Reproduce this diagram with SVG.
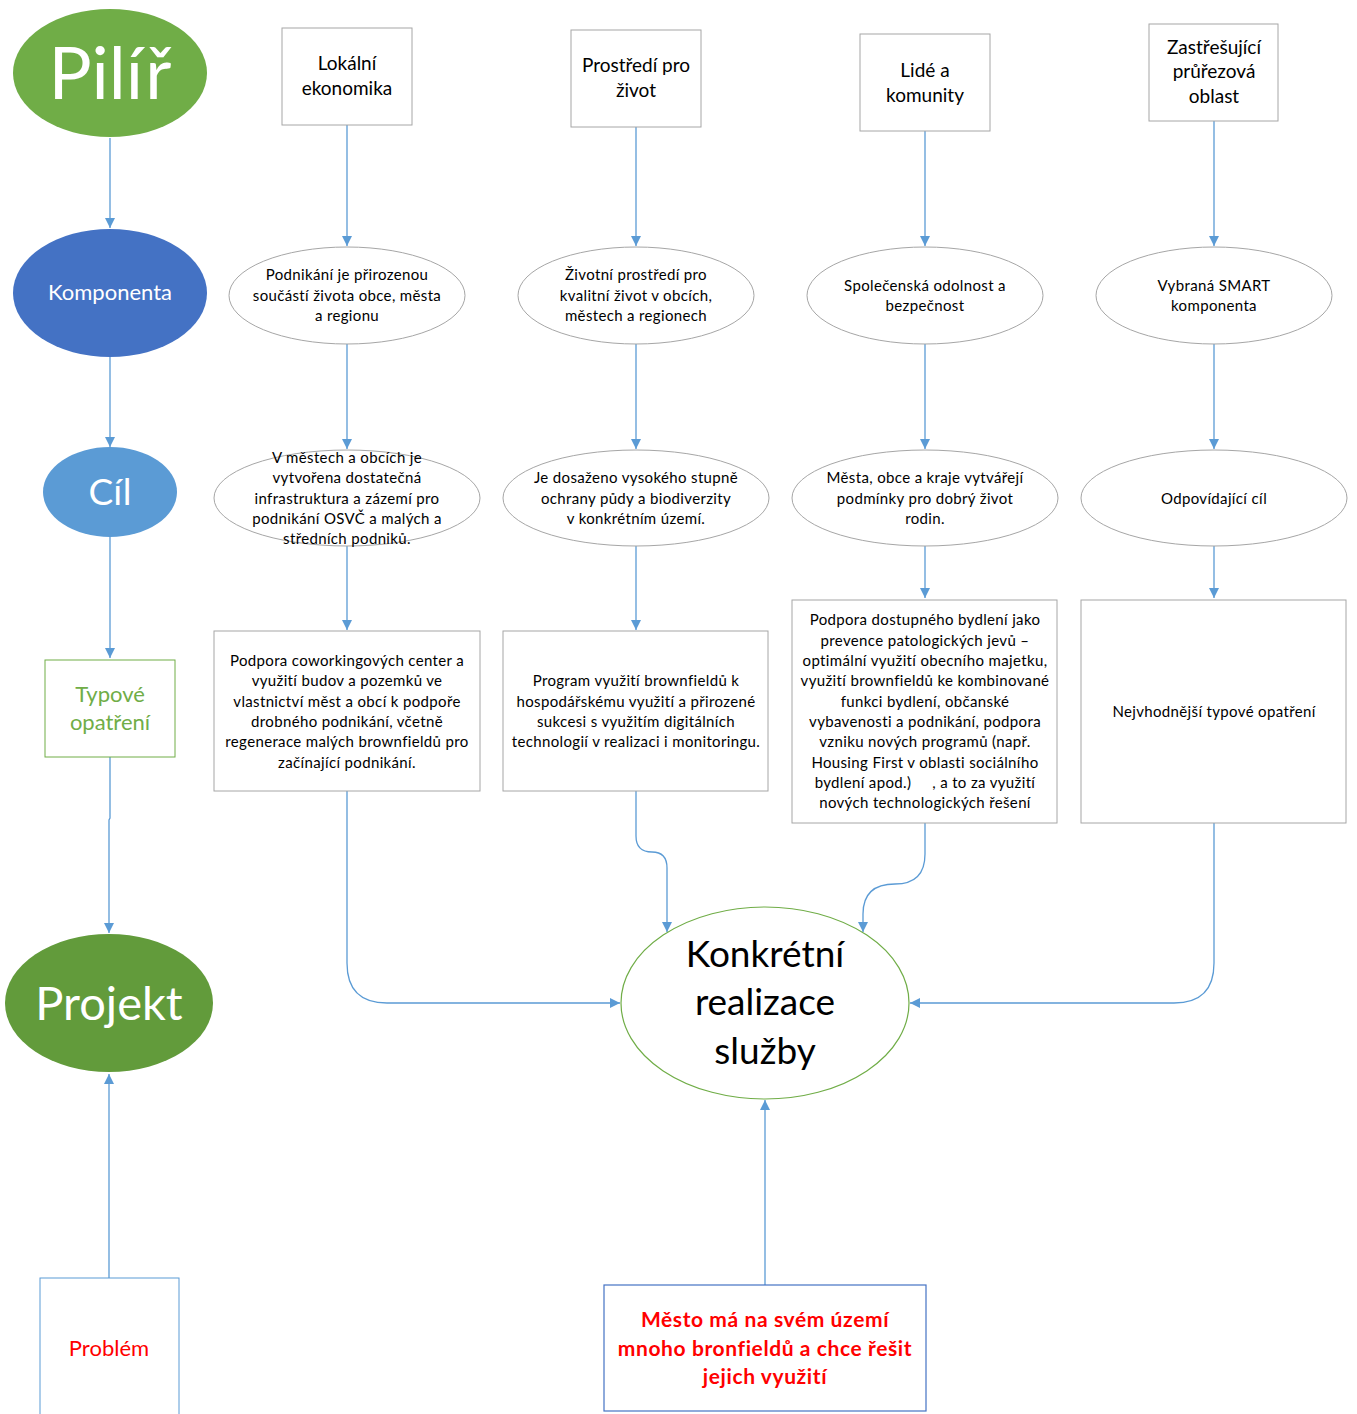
<svg xmlns="http://www.w3.org/2000/svg" width="1357" height="1414" viewBox="0 0 1357 1414">
<defs>
<marker id="ah" markerUnits="userSpaceOnUse" markerWidth="10" markerHeight="10" refX="10" refY="5" orient="auto">
<path d="M0,0 L10,5 L0,10 z" fill="#5B9BD5"/>
</marker>
<style>
text{font-family:Lato,"Open Sans","Liberation Sans",sans-serif;text-anchor:middle;white-space:pre}
.box{fill:#fff;stroke:#a6a6a6;stroke-width:1}
.ell{fill:#fff;stroke:#a6a6a6;stroke-width:1}
.t18{font-size:19px;fill:#000}
.t14{font-size:15px;fill:#000;letter-spacing:0.35px}
.wl{fill:#fff}
.con path{fill:none;stroke:#5B9BD5;stroke-width:1.3;marker-end:url(#ah)}
</style>
</defs>
<rect width="1357" height="1414" fill="#fff"/>

<g class="con">
<path d="M110,138 V228"/>
<path d="M110,357 V447"/>
<path d="M110,537 V658"/>
<path d="M110,757 V818 L109,820 V933"/>
<path d="M109,1278 V1074"/>
<path d="M347,125 V246"/>
<path d="M636,127 V246"/>
<path d="M925,131 V246"/>
<path d="M1214,121 V246"/>
<path d="M347,344 V449"/>
<path d="M636,344 V449"/>
<path d="M925,344 V449"/>
<path d="M1214,344 V449"/>
<path d="M347,546 V630"/>
<path d="M636,546 V630"/>
<path d="M925,546 V598"/>
<path d="M1214,546 V598"/>
<path d="M347,791 V963 Q347,1003 387,1003 H620"/>
<path d="M636,791 V836 Q636,852 652,852 Q667,852 667,868 V932"/>
<path d="M925,823 V854 Q925,884 895,884 Q863,884 863,914 V932"/>
<path d="M1214,823 V963 Q1214,1003 1174,1003 H910"/>
<path d="M765,1285 V1100"/>
</g>

<g id="pilir">
<ellipse cx="110" cy="73" rx="97" ry="64" fill="#70AD47"/>
<text x="110" y="99" class="wl" style="font-size:72px">Pilíř</text>
</g>
<g id="komponenta">
<ellipse cx="110" cy="293" rx="97" ry="64" fill="#4472C4"/>
<text x="110" y="300" class="wl" style="font-size:22px">Komponenta</text>
</g>
<g id="cil">
<ellipse cx="110" cy="492" rx="67" ry="45" fill="#5B9BD5"/>
<text x="110" y="505" class="wl" style="font-size:37px">Cíl</text>
</g>
<g id="typove">
<rect x="45" y="660" width="130" height="97" fill="#fff" stroke="#70AD47"/>
<text x="110" y="702" style="font-size:22px;fill:#70AD47">Typové</text>
<text x="110" y="730" style="font-size:22px;fill:#70AD47">opatření</text>
</g>
<g id="projekt">
<ellipse cx="109" cy="1003" rx="104" ry="69" fill="#629B3B"/>
<text x="109" y="1020" class="wl" style="font-size:47px">Projekt</text>
</g>
<g id="problem">
<rect x="40" y="1278" width="139" height="140" fill="#fff" stroke="#5B9BD5"/>
<text x="109" y="1356" style="font-size:22px;fill:#f00">Problém</text>
</g>

<g id="p1">
<rect x="282" y="28" width="130" height="97" class="box"/>
<text x="347" y="70" class="t18">Lokální</text>
<text x="347" y="95" class="t18">ekonomika</text>
</g>
<g id="p2">
<rect x="571" y="30" width="130" height="97" class="box"/>
<text x="636" y="72" class="t18">Prostředí pro</text>
<text x="636" y="97" class="t18">život</text>
</g>
<g id="p3">
<rect x="860" y="34" width="130" height="97" class="box"/>
<text x="925" y="77" class="t18">Lidé a</text>
<text x="925" y="102" class="t18">komunity</text>
</g>
<g id="p4">
<rect x="1149" y="24" width="129" height="97" class="box"/>
<text x="1214" y="54" class="t18">Zastřešující</text>
<text x="1214" y="78" class="t18">průřezová</text>
<text x="1214" y="103" class="t18">oblast</text>
</g>

<g id="k1">
<ellipse cx="347" cy="295.5" rx="118" ry="48.5" class="ell"/>
<text class="t14"><tspan x="347" y="280">Podnikání je přirozenou</tspan><tspan x="347" y="301">součástí života obce, města</tspan><tspan x="347" y="321">a regionu</tspan></text>
</g>
<g id="k2">
<ellipse cx="636" cy="295.5" rx="118" ry="48.5" class="ell"/>
<text class="t14"><tspan x="636" y="280">Životní prostředí pro</tspan><tspan x="636" y="301">kvalitní život v obcích,</tspan><tspan x="636" y="321">městech a regionech</tspan></text>
</g>
<g id="k3">
<ellipse cx="925" cy="295.5" rx="118" ry="48.5" class="ell"/>
<text class="t14"><tspan x="925" y="291">Společenská odolnost a</tspan><tspan x="925" y="311">bezpečnost</tspan></text>
</g>
<g id="k4">
<ellipse cx="1214" cy="295.5" rx="118" ry="48.5" class="ell"/>
<text class="t14"><tspan x="1214" y="291">Vybraná SMART</tspan><tspan x="1214" y="311">komponenta</tspan></text>
</g>

<g id="c1">
<ellipse cx="347" cy="498" rx="133" ry="48" class="ell"/>
<text class="t14"><tspan x="347" y="463">V městech a obcích je</tspan><tspan x="347" y="483">vytvořena dostatečná</tspan><tspan x="347" y="504">infrastruktura a zázemí pro</tspan><tspan x="347" y="524">podnikání OSVČ a malých a</tspan><tspan x="347" y="544">středních podniků.</tspan></text>
</g>
<g id="c2">
<ellipse cx="636" cy="498" rx="133" ry="48" class="ell"/>
<text class="t14"><tspan x="636" y="483">Je dosaženo vysokého stupně</tspan><tspan x="636" y="504">ochrany půdy a biodiverzity</tspan><tspan x="636" y="524">v konkrétním území.</tspan></text>
</g>
<g id="c3">
<ellipse cx="925" cy="498" rx="133" ry="48" class="ell"/>
<text class="t14"><tspan x="925" y="483">Města, obce a kraje vytvářejí</tspan><tspan x="925" y="504">podmínky pro dobrý život</tspan><tspan x="925" y="524">rodin.</tspan></text>
</g>
<g id="c4">
<ellipse cx="1214" cy="498" rx="133" ry="48" class="ell"/>
<text x="1214" y="504" class="t14">Odpovídající cíl</text>
</g>

<g id="o1">
<rect x="214" y="631" width="266" height="160" class="box"/>
<text class="t14"><tspan x="347" y="666">Podpora coworkingových center a</tspan><tspan x="347" y="686">využití budov a pozemků ve</tspan><tspan x="347" y="707">vlastnictví měst a obcí k podpoře</tspan><tspan x="347" y="727">drobného podnikání, včetně</tspan><tspan x="347" y="747">regenerace malých brownfieldů pro</tspan><tspan x="347" y="768">začínající podnikání.</tspan></text>
</g>
<g id="o2">
<rect x="503" y="631" width="265" height="160" class="box"/>
<text class="t14"><tspan x="636" y="686">Program využití brownfieldů k</tspan><tspan x="636" y="707">hospodářskému využití a přirozené</tspan><tspan x="636" y="727">sukcesi s využitím digitálních</tspan><tspan x="636" y="747">technologií v realizaci i monitoringu.</tspan></text>
</g>
<g id="o3">
<rect x="792" y="600" width="265" height="223" class="box"/>
<text class="t14"><tspan x="925" y="625">Podpora dostupného bydlení jako</tspan><tspan x="925" y="646">prevence patologických jevů –</tspan><tspan x="925" y="666">optimální využití obecního majetku,</tspan><tspan x="925" y="686">využití brownfieldů ke kombinované</tspan><tspan x="925" y="707">funkci bydlení, občanské</tspan><tspan x="925" y="727">vybavenosti a podnikání, podpora</tspan><tspan x="925" y="747">vzniku nových programů (např.</tspan><tspan x="925" y="768">Housing First v oblasti sociálního</tspan><tspan x="925" y="788">bydlení apod.)     , a to za využití</tspan><tspan x="925" y="808">nových technologických řešení</tspan></text>
</g>
<g id="o4">
<rect x="1081" y="600" width="265" height="223" class="box"/>
<text x="1214" y="717" class="t14">Nejvhodnější typové opatření</text>
</g>

<g id="realizace">
<ellipse cx="765" cy="1003" rx="144" ry="96" fill="#fff" stroke="#70AD47" stroke-width="1.2"/>
<text style="font-size:37px;fill:#000"><tspan x="765" y="967">Konkrétní</tspan><tspan x="765" y="1015">realizace</tspan><tspan x="765" y="1064">služby</tspan></text>
</g>
<g id="mesto">
<rect x="604" y="1285" width="322" height="126" fill="#fff" stroke="#4472C4" stroke-width="1.2"/>
<text style="font-size:21px;font-weight:bold;fill:#f00;letter-spacing:0.6px"><tspan x="765" y="1327">Město má na svém území</tspan><tspan x="765" y="1356">mnoho bronfieldů a chce řešit</tspan><tspan x="765" y="1384">jejich využití</tspan></text>
</g>
</svg>
